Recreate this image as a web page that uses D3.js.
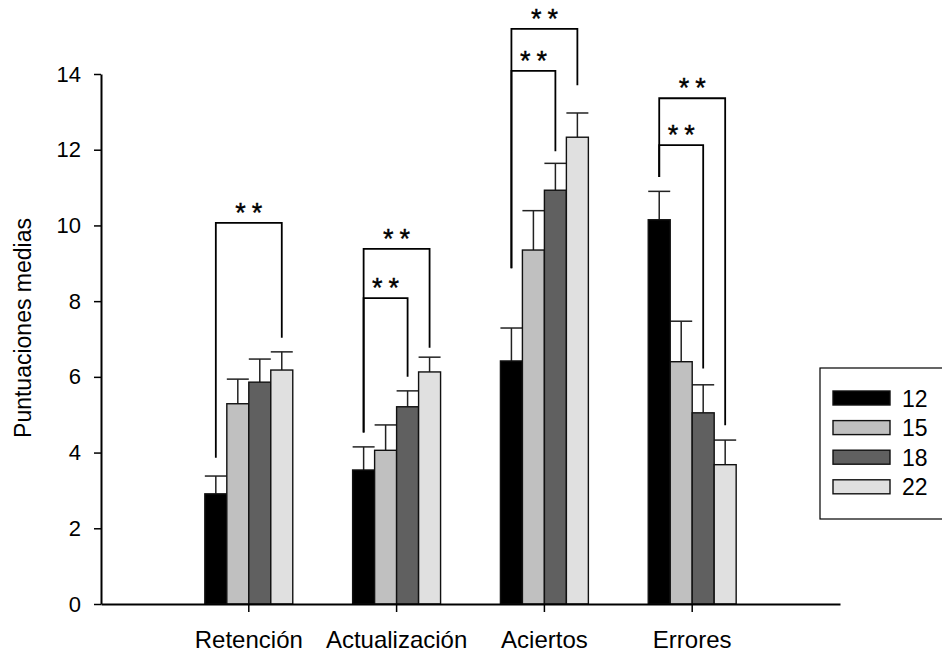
<!DOCTYPE html>
<html>
<head>
<meta charset="utf-8">
<script src="https://cdn.jsdelivr.net/npm/d3@7"></script>
<style>
  html, body { margin: 0; padding: 0; background: #fff; }
  svg { display: block; font-family: "Liberation Sans", Arial, sans-serif; }
</style>
</head>
<body>
<svg id="chart" width="942" height="653"></svg>
<script>
// ---- data ----
const categories = ["Retención", "Actualización", "Aciertos", "Errores"];
const series = ["12", "15", "18", "22"];
const means12 = [2.91, 3.54, 6.42, 10.15];
const means15 = [5.29, 4.06, 9.35, 6.40];
const means18 = [5.86, 5.21, 10.93, 5.05];
const means22 = [6.18, 6.13, 12.33, 3.68];
const upper12 = [3.38, 4.15, 7.29, 10.90];
const upper15 = [5.94, 4.73, 10.39, 7.47];
const upper18 = [6.47, 5.63, 11.64, 5.79];
const upper22 = [6.66, 6.52, 12.97, 4.33];
const yTicks = [0, 2, 4, 6, 8, 10, 12, 14];
const seriesColors = ["#000000", "#c0c0c0", "#606060", "#e0e0e0"];
// significance brackets: category, from series, to series, bracket top, left leg end, right leg end
const bracketCat   = ["Retención", "Actualización", "Actualización", "Aciertos", "Aciertos", "Errores", "Errores"];
const bracketFrom  = ["12", "12", "12", "12", "12", "12", "12"];
const bracketTo    = ["22", "22", "18", "22", "18", "22", "18"];
const bracketTop   = [10.07, 9.38, 8.08, 15.19, 14.08, 13.36, 12.12];
const bracketLeft  = [3.86, 4.53, 4.53, 8.87, 8.87, 11.28, 11.28];
const bracketRight = [7.03, 6.77, 6.00, 13.70, 11.96, 4.72, 6.22];
const bracketLabel = "**";

const meansBySeries = [means12, means15, means18, means22];
const upperBySeries = [upper12, upper15, upper18, upper22];

const svg = d3.select("#chart");

const x0 = d3.scaleBand().domain(categories).range([101, 840]).paddingInner(0.405).paddingOuter(0.7025);
const x1 = d3.scaleBand().domain(series).range([0, x0.bandwidth()]);
const y = d3.scaleLinear().domain([0, 14]).range([604, 74]);
const color = d3.scaleOrdinal().domain(series).range(seriesColors);

const rows = [];
categories.forEach((c, ci) => {
  series.forEach((s, si) => {
    rows.push({cat: c, ser: s, v: meansBySeries[si][ci], up: upperBySeries[si][ci]});
  });
});

// error bars (upper only), drawn behind bars
const eb = svg.append("g").attr("stroke", "#222").attr("stroke-width", 1.5);
rows.forEach(d => {
  const cx = x0(d.cat) + x1(d.ser) + x1.bandwidth() / 2;
  eb.append("line").attr("x1", cx).attr("x2", cx).attr("y1", y(d.v)).attr("y2", y(d.up));
  eb.append("line").attr("x1", x0(d.cat) + x1(d.ser)).attr("x2", x0(d.cat) + x1(d.ser) + x1.bandwidth())
    .attr("y1", y(d.up)).attr("y2", y(d.up));
});

// bars
svg.append("g").selectAll("rect").data(rows).join("rect")
  .attr("x", d => x0(d.cat) + x1(d.ser))
  .attr("width", x1.bandwidth())
  .attr("y", d => y(d.v))
  .attr("height", d => y(0) - y(d.v))
  .attr("fill", d => color(d.ser))
  .attr("stroke", "#111")
  .attr("stroke-width", 1.4);

// y axis
const yAxis = svg.append("g").attr("transform", "translate(101,0)")
  .call(d3.axisLeft(y).tickValues(yTicks).tickFormat(d3.format("d")).tickSizeInner(7).tickSizeOuter(0).tickPadding(13));
yAxis.select(".domain").attr("stroke", "#000").attr("stroke-width", 2);
yAxis.selectAll(".tick line").attr("stroke", "#000").attr("stroke-width", 1.5);
yAxis.selectAll(".tick text").attr("font-size", 22).attr("fill", "#000")
  .attr("font-family", "'Liberation Sans', Arial, sans-serif");

// x axis
const xAxis = svg.append("g").attr("transform", "translate(0,604)")
  .call(d3.axisBottom(x0).tickSizeInner(8).tickSizeOuter(0).tickFormat(""));
xAxis.select(".domain").attr("stroke", "#000").attr("stroke-width", 2);
xAxis.selectAll(".tick line").attr("stroke", "#000").attr("stroke-width", 1.5);
svg.append("g").selectAll("text").data(categories).join("text")
  .attr("x", d => x0(d) + x0.bandwidth() / 2)
  .attr("y", 648)
  .attr("text-anchor", "middle")
  .attr("font-size", 24)
  .text(d => d);

// y title
svg.append("text")
  .attr("transform", "translate(31,328) rotate(-90)")
  .attr("text-anchor", "middle")
  .attr("font-size", 23)
  .text("Puntuaciones medias");

// brackets
const bg = svg.append("g");
bracketCat.forEach((c, i) => {
  const xl = x0(c) + x1(bracketFrom[i]) + x1.bandwidth() / 2;
  const xr = x0(c) + x1(bracketTo[i]) + x1.bandwidth() / 2;
  const path = d3.path();
  path.moveTo(xl, y(bracketLeft[i]));
  path.lineTo(xl, y(bracketTop[i]));
  path.lineTo(xr, y(bracketTop[i]));
  path.lineTo(xr, y(bracketRight[i]));
  bg.append("path").attr("d", path.toString()).attr("fill", "none")
    .attr("stroke", "#000").attr("stroke-width", 1.8);
  bg.append("text")
    .attr("x", (xl + xr) / 2 + 3)
    .attr("y", y(bracketTop[i]) - 1)
    .attr("text-anchor", "middle")
    .attr("font-size", 27)
    .attr("letter-spacing", 6)
    .attr("stroke", "#000")
    .attr("stroke-width", 0.4)
    .text(bracketLabel);
});

// legend
const lg = svg.append("g");
lg.append("rect").attr("x", 820).attr("y", 368).attr("width", 150).attr("height", 151)
  .attr("fill", "#fff").attr("stroke", "#000").attr("stroke-width", 1.2);
series.forEach((s, i) => {
  const cy = 398 + i * 29.6;
  lg.append("rect").attr("x", 833).attr("y", cy - 7).attr("width", 57).attr("height", 14)
    .attr("fill", color(s)).attr("stroke", "#111").attr("stroke-width", 1.4);
  lg.append("text").attr("x", 902).attr("y", cy + 8.5).attr("font-size", 23).text(s);
});
</script>
</body>
</html>
